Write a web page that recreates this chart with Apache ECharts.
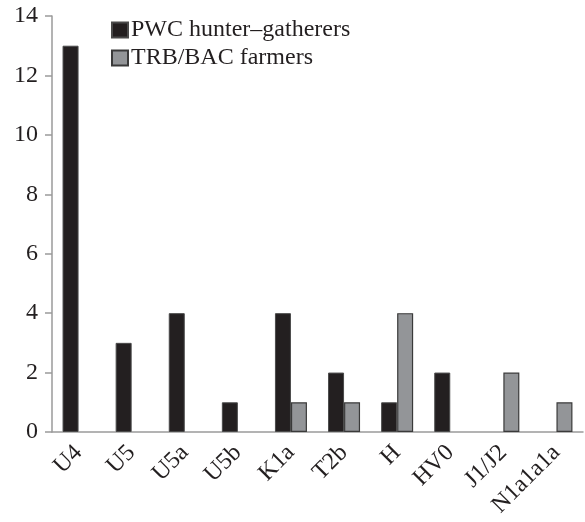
<!DOCTYPE html>
<html><head><meta charset="utf-8">
<script src="https://cdn.jsdelivr.net/npm/echarts@6/dist/echarts.min.js"></script>
<style>html,body{margin:0;padding:0;background:#fff}#c{width:585px;height:522px}</style>
</head><body><div id="c"></div>
<script>
const categories = ['U4','U5','U5a','U5b','K1a','T2b','H','HV0','J1/J2','N1a1a1a'];
const hunterGatherers = [13,3,4,1,4,2,1,2,0,0];
const farmers = [0,0,0,0,1,1,4,0,2,1];
const yTicks = {min:0, max:14, interval:2};
const seriesNames = ['PWC hunter\u2013gatherers','TRB/BAC farmers'];

const font = '"Liberation Serif", "Times New Roman", serif';
const txt = '#231f20';
const axisCol = '#9a9a9a';
const chart = echarts.init(document.getElementById('c'));
const toData = a => a.map(v => v === 0 ? '-' : v);
chart.setOption({
  animation:false,
  backgroundColor:'#fff',
  grid:{left:52,right:2,top:16,bottom:90},
  legend:{
    orient:'vertical', left:106, top:13, itemWidth:16, itemHeight:15, itemGap:4, icon:'rect',
    textStyle:{fontFamily:font,fontSize:24,color:txt,padding:[0,0,0,-2]},
    data:seriesNames
  },
  xAxis:{
    type:'category', data:categories,
    axisLine:{lineStyle:{color:axisCol,width:1.5}},
    axisTick:{length:8,lineStyle:{color:axisCol,width:1.5}},
    axisLabel:{rotate:45,margin:17,fontFamily:font,fontSize:24,color:txt}
  },
  yAxis:{
    type:'value', min:yTicks.min, max:yTicks.max, interval:yTicks.interval,
    splitLine:{show:false},
    axisLine:{show:true,lineStyle:{color:axisCol,width:1.5}},
    axisTick:{show:true,length:7,lineStyle:{color:axisCol,width:1.5}},
    axisLabel:{margin:14,fontFamily:font,fontSize:24,color:txt}
  },
  series:[
    {name:seriesNames[0],type:'bar',data:toData(hunterGatherers),barWidth:16,barGap:'0%',
     itemStyle:{color:'#231f20',borderColor:'#4a4a4a',borderWidth:1}},
    {name:seriesNames[1],type:'bar',data:toData(farmers),barWidth:16,barGap:'0%',
     itemStyle:{color:'#939598',borderColor:'#3a3a3a',borderWidth:1.2}}
  ]
});
</script></body></html>
